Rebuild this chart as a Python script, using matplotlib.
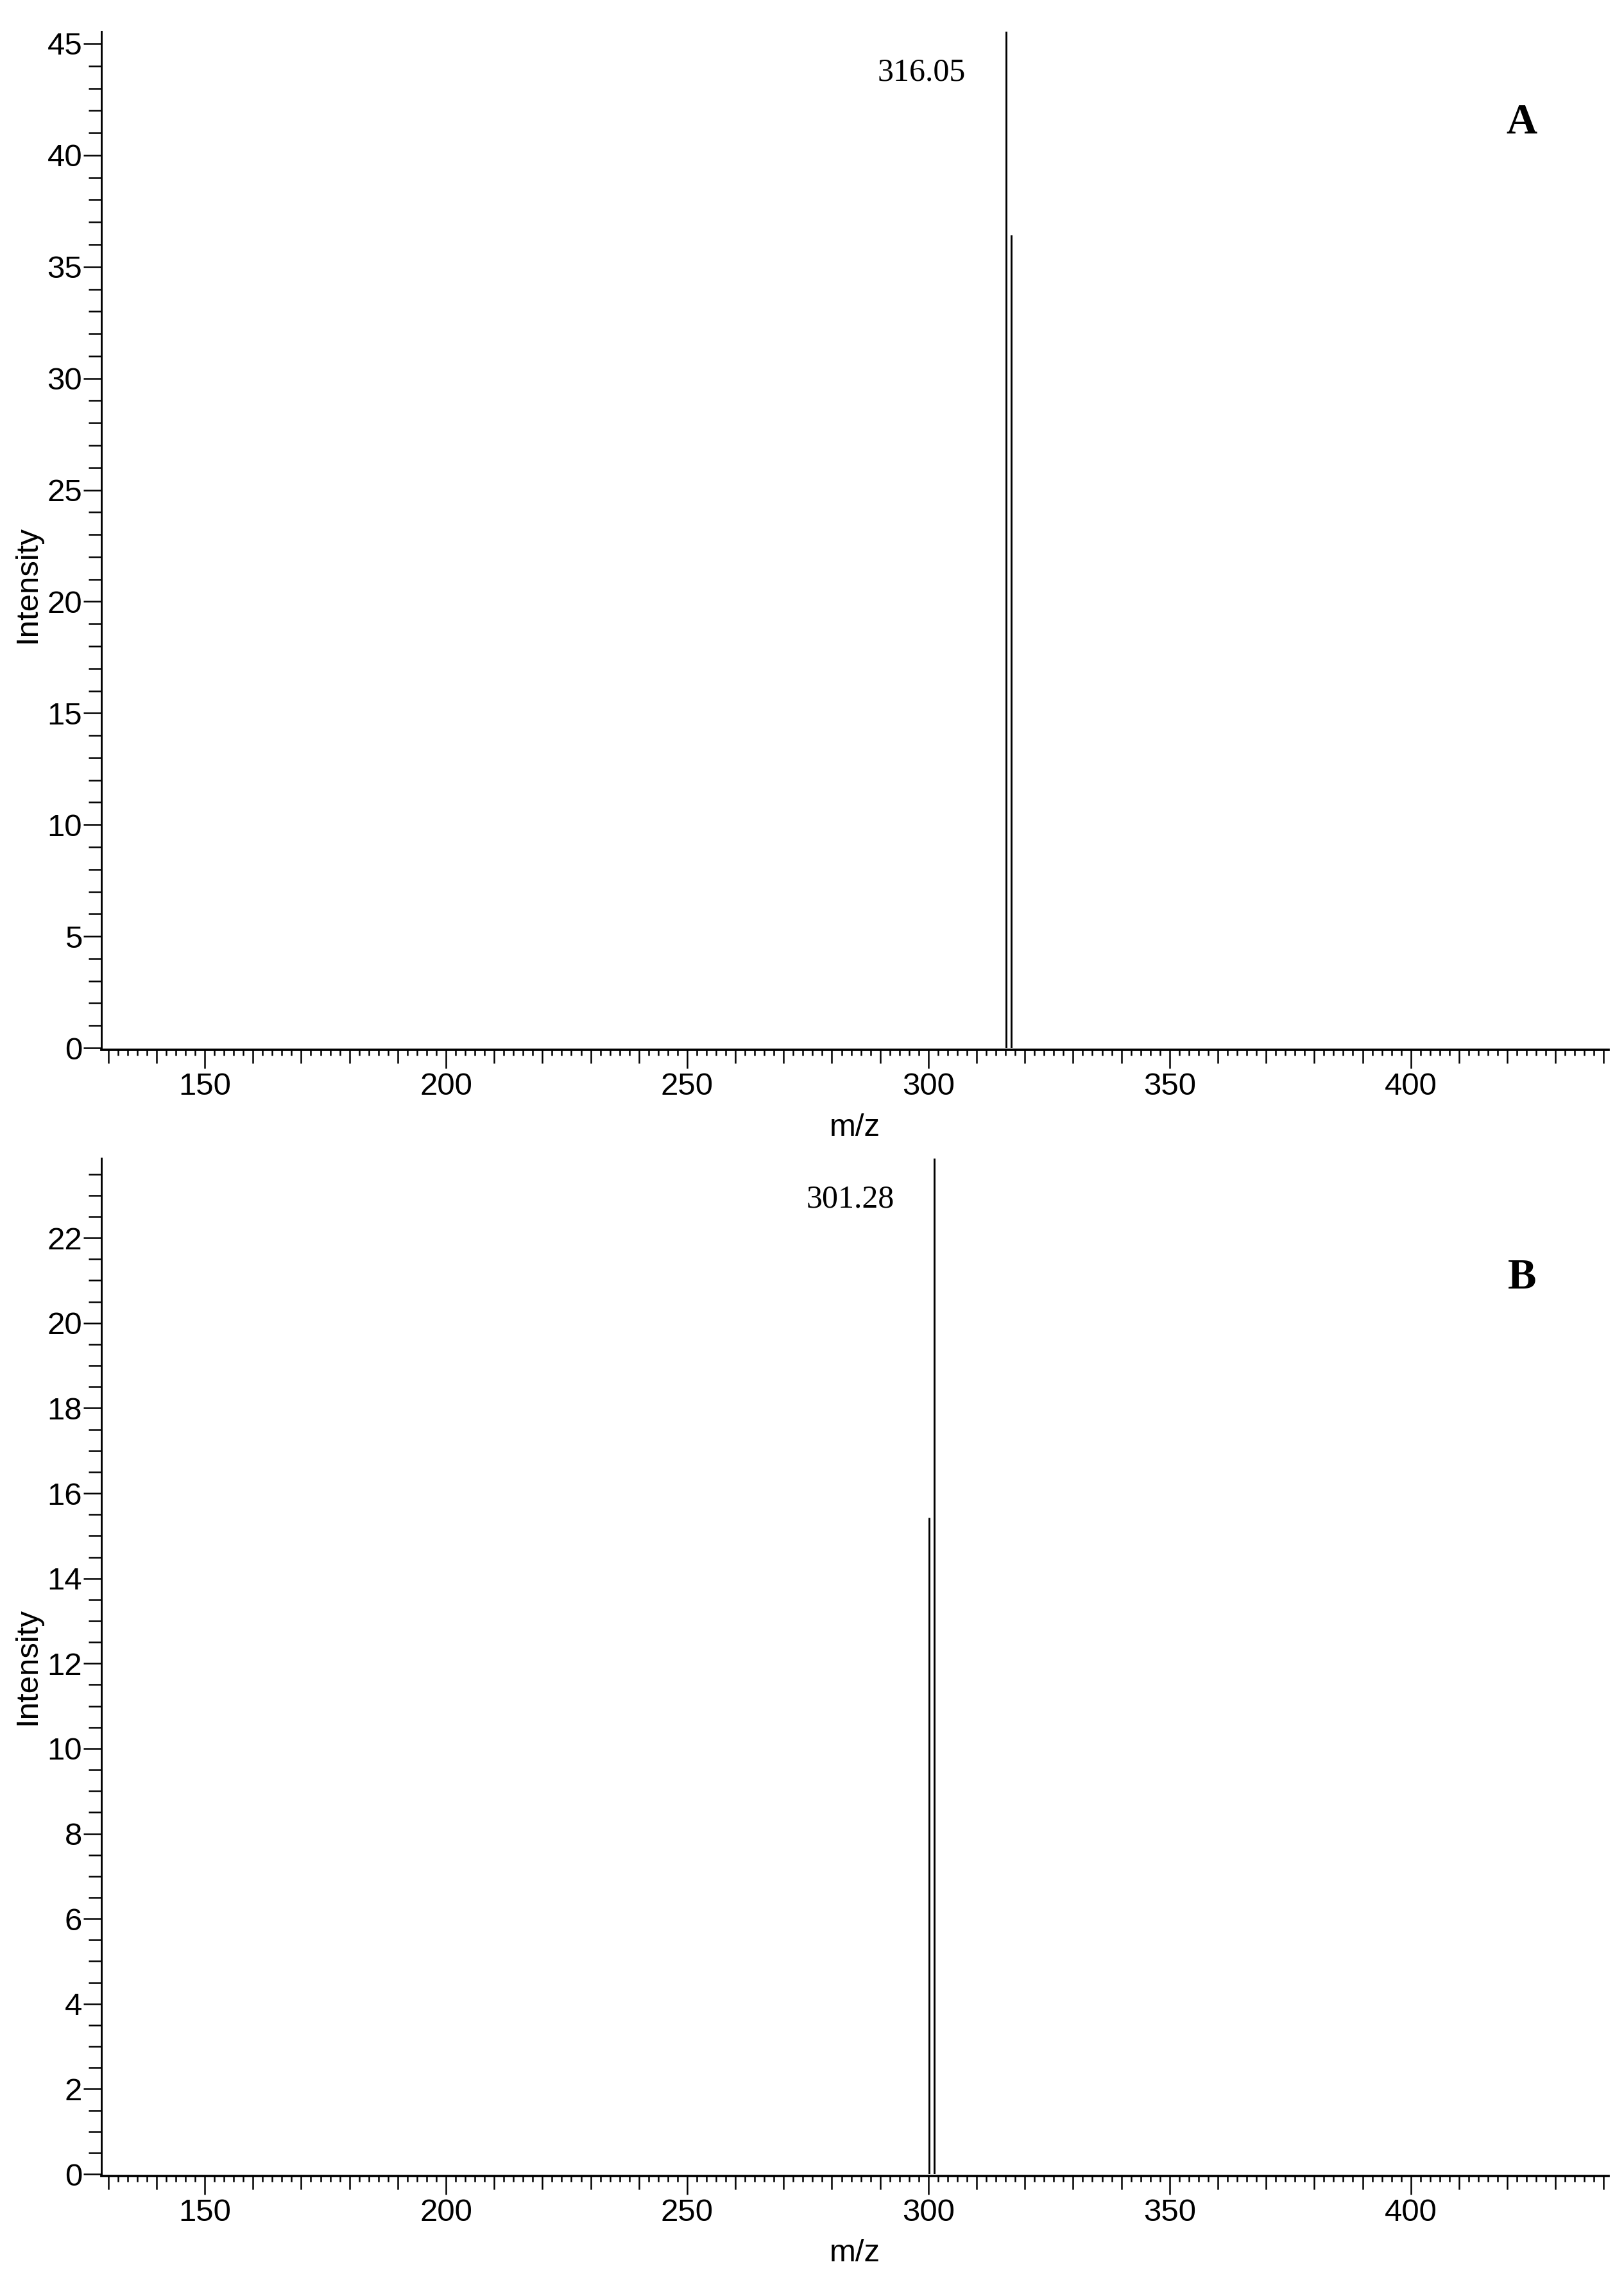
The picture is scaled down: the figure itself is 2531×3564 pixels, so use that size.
import matplotlib
matplotlib.use("Agg")
import matplotlib.pyplot as plt
from matplotlib.ticker import MultipleLocator, FuncFormatter

plt.rcParams['font.family'] = ['Liberation Sans', 'DejaVu Sans']

# Datos de los espectros
mz_a = [316.05, 317.15]
int_a = [45.55, 36.42]
label_a = "316.05"

mz_b = [300.1, 301.28]
int_b = [15.43, 23.87]
label_b = "301.28"

panel_names = ["A", "B"]
xlim = (128.6, 441.0)

fig = plt.figure(figsize=(2531 / 300, 3564 / 300), dpi=300)
ax_a = fig.add_axes([0.0625, 0.5418, 0.928, 0.4445])
ax_b = fig.add_axes([0.0625, 0.04938, 0.928, 0.44412])


def style_axis(ax, ymax, ymajor, yminor, ylabel_y):
    ax.set_xlim(*xlim)
    ax.set_ylim(0, ymax)
    for s in ("top", "right"):
        ax.spines[s].set_visible(False)
    ax.spines["left"].set_linewidth(0.7)
    ax.spines["bottom"].set_linewidth(0.9)
    ax.spines["bottom"].set_position(("outward", 0.7))

    ax.xaxis.set_major_locator(MultipleLocator(10))
    ax.xaxis.set_minor_locator(MultipleLocator(2))
    ax.xaxis.set_major_formatter(FuncFormatter(
        lambda v, p: f"{v:.0f}" if abs(v % 50) < 1e-6 else ""))
    ax.yaxis.set_major_locator(MultipleLocator(ymajor))
    ax.yaxis.set_minor_locator(MultipleLocator(yminor))

    ax.tick_params(axis="x", which="major", length=5.0, width=0.6, pad=3.5, labelsize=11.8)
    ax.tick_params(axis="x", which="minor", length=2.2, width=0.6)
    ax.tick_params(axis="y", which="major", length=6.7, width=0.6, pad=0.5, labelsize=11.8)
    ax.tick_params(axis="y", which="minor", length=4.8, width=0.6)

    ax.set_xlabel("m/z", fontsize=11.8, va="center")
    ax.xaxis.set_label_coords(0.5, -0.0783)
    ax.set_ylabel("Intensity", fontsize=11.8, va="center")
    ax.yaxis.set_label_coords(-0.049, ylabel_y)


style_axis(ax_a, 45.55, 5, 1, 0.456)
style_axis(ax_b, 23.87, 2, 0.5, 0.5)

ax_a.vlines(mz_a, 0, int_a, colors="black", linewidth=0.7)
ax_b.vlines(mz_b, 0, int_b, colors="black", linewidth=0.7)

for ax, mz, inten, lab in ((ax_a, mz_a, int_a, label_a), (ax_b, mz_b, int_b, label_b)):
    i = inten.index(max(inten))
    ax.annotate(lab, xy=(mz[i], inten[i]), xytext=(-15, -15.5),
                textcoords="offset points", ha="right", va="center",
                fontsize=12, family="Liberation Serif")

ax_a.text(0.9425, 0.910, panel_names[0], transform=ax_a.transAxes, ha="center",
          va="center", fontsize=16, fontweight="bold", family="Liberation Serif")
ax_b.text(0.9425, 0.8825, panel_names[1], transform=ax_b.transAxes, ha="center",
          va="center", fontsize=16, fontweight="bold", family="Liberation Serif")

# Ticks largos cada 50
fig.canvas.draw()
for ax in (ax_a, ax_b):
    for t in ax.xaxis.get_major_ticks():
        if abs(t.get_loc() % 50) < 1e-6:
            t.tick1line.set_markersize(7.0)

fig.savefig("out.png", dpi=300)
